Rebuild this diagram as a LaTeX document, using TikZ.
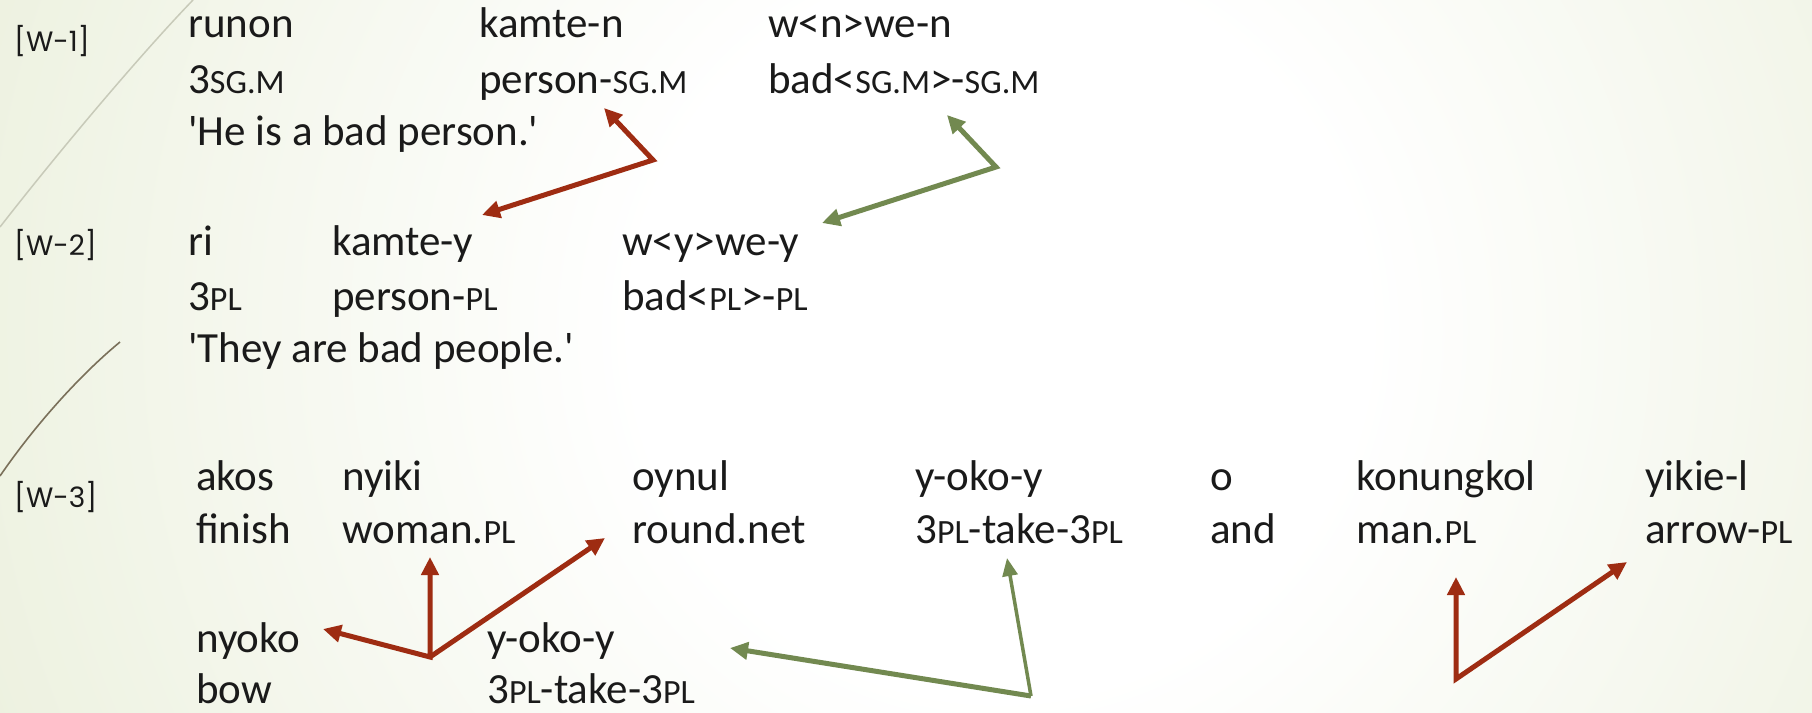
\documentclass[tikz,border=0pt]{standalone}
\usepackage{fontspec}
\setmainfont{Carlito}
\newfontfamily\labelfam{Poppins}
\usetikzlibrary{arrows.meta}
\definecolor{rust}{RGB}{158,44,18}
\definecolor{moss}{RGB}{114,137,80}
\definecolor{bggreen}{RGB}{226,233,205}
\definecolor{wispgray}{RGB}{200,202,185}
\definecolor{wispbrown}{RGB}{122,112,90}
\definecolor{ink}{RGB}{26,26,26}
\pgfdeclareradialshading{slide}{\pgfpoint{0bp}{0bp}}{color(0bp)=(white); color(7bp)=(white); color(29bp)=(bggreen); color(50bp)=(bggreen)}
\newcommand{\glossfont}{\fontsize{43}{52}\selectfont}
\newcommand{\exfont}{\labelfam\fontsize{28}{32}\selectfont}
\newcommand{\abbr}[1]{{\fontsize{34}{40}\selectfont #1}}
\newcommand{\apos}{\textquotesingle}
\tikzstyle{gloss} = [anchor=base west, inner sep=0pt, text=ink, font=\glossfont]
\tikzstyle{exno} = [anchor=west, inner sep=0pt, text=ink, font=\exfont]
\tikzstyle{redlink} = [draw=rust, line width=5pt,
    {Triangle[length=18pt,width=17pt]}-{Triangle[length=18pt,width=17pt]}]
\tikzstyle{greenlink} = [draw=moss, line width=5pt,
    {Triangle[length=18pt,width=17pt]}-{Triangle[length=18pt,width=17pt]}]
\tikzstyle{redone} = [draw=rust, line width=5pt, -{Triangle[length=18pt,width=17pt]}]
\tikzstyle{greenone} = [draw=moss, line width=3.5pt, -{Triangle[length=18pt,width=15pt]}]

\begin{document}
\begin{tikzpicture}[x=1pt,y=1pt]
\useasboundingbox (0,0) rectangle (1812,-712);
\begin{scope}
\clip (0,0) rectangle (1812,-712);
\shade[shading=slide] (-300,970) rectangle (2300,-1630);
\end{scope}
\draw[wispgray, line width=1.5pt] (193,0) .. controls (140,-55) and (60,-150) .. (0,-227);
\draw[wispbrown, line width=1.6pt] (120,-342) .. controls (80,-375) and (35,-425) .. (0,-476);

% W-1
\node[exno] (ex1) at (14,-41) {[W-1]};
\node[gloss] (runon) at (188,-37) {runon};
\node[gloss] (kamten) at (479,-37) {kamte-n};
\node[gloss] (wnwen) at (768,-37) {w<n>we-n};
\node[gloss] (sgm) at (188,-93) {3\abbr{SG.M}};
\node[gloss] (personsgm) at (479,-93) {person-\abbr{SG.M}};
\node[gloss] (badsgm) at (768,-93) {bad<\abbr{SG.M}>-\abbr{SG.M}};
\node[gloss] (free1) at (188,-145) {\apos He is a bad person.\apos};

% W-2
\node[exno] (ex2) at (14,-245) {[W-2]};
\node[gloss] (ri) at (188,-255) {ri};
\node[gloss] (kamtey) at (332,-255) {kamte-y};
\node[gloss] (wywey) at (622,-255) {w<y>we-y};
\node[gloss] (threepl) at (188,-310) {3\abbr{PL}};
\node[gloss] (personpl) at (332,-310) {person-\abbr{PL}};
\node[gloss] (badpl) at (622,-310) {bad<\abbr{PL}>-\abbr{PL}};
\node[gloss] (free2) at (188,-362) {\apos They are bad people.\apos};

% W-3
\node[exno] (ex3) at (14,-497) {[W-3]};
\node[gloss] (akos) at (196,-490) {akos};
\node[gloss] (nyiki) at (342,-490) {nyiki};
\node[gloss] (oynul) at (632,-490) {oynul};
\node[gloss] (yokoy) at (915,-490) {y-oko-y};
\node[gloss] (o) at (1210,-490) {o};
\node[gloss] (konungkol) at (1356,-490) {konungkol};
\node[gloss] (yikiel) at (1645,-490) {yikie-l};
\node[gloss] (finish) at (196,-543) {finish};
\node[gloss] (womanpl) at (342,-543) {woman.\abbr{PL}};
\node[gloss] (roundnet) at (632,-543) {round.net};
\node[gloss] (takepl) at (915,-543) {3\abbr{PL}-take-3\abbr{PL}};
\node[gloss] (and) at (1210,-543) {and};
\node[gloss] (manpl) at (1356,-543) {man.\abbr{PL}};
\node[gloss] (arrowpl) at (1645,-543) {arrow-\abbr{PL}};
\node[gloss] (nyoko) at (196,-652) {nyoko};
\node[gloss] (yokoyb) at (487,-652) {y-oko-y};
\node[gloss] (bow) at (196,-703) {bow};
\node[gloss] (takeplb) at (487,-703) {3\abbr{PL}-take-3\abbr{PL}};

% arrows
\coordinate (r1a) at (604,-108);
\coordinate (r1c) at (653,-160);
\coordinate (r1b) at (482,-215);
\coordinate (g1a) at (947,-115);
\coordinate (g1c) at (996,-167);
\coordinate (g1b) at (822,-223);
\coordinate (r3up) at (430,-557);
\coordinate (r3c) at (430,-657);
\coordinate (r3l) at (323,-629);
\coordinate (r3ur) at (605,-538);
\coordinate (g3up) at (1007,-558);
\coordinate (g3c) at (1031,-696);
\coordinate (g3l) at (730,-648);
\coordinate (r4up) at (1456,-577);
\coordinate (r4c) at (1456,-679);
\coordinate (r4r) at (1627,-562);
\draw[redlink] (r1a) -- (r1c) -- (r1b);
\draw[greenlink] (g1a) -- (g1c) -- (g1b);
\draw[redlink] (r3up) -- (r3c) -- (r3l);
\draw[redone] (r3c) -- (r3ur);
\draw[greenone] (g3c) -- (g3up);
\draw[greenlink, -{Triangle[length=18pt,width=17pt]}] (g3c) -- (g3l);
\draw[redlink] (r4up) -- (r4c) -- (r4r);
\end{tikzpicture}
\end{document}
